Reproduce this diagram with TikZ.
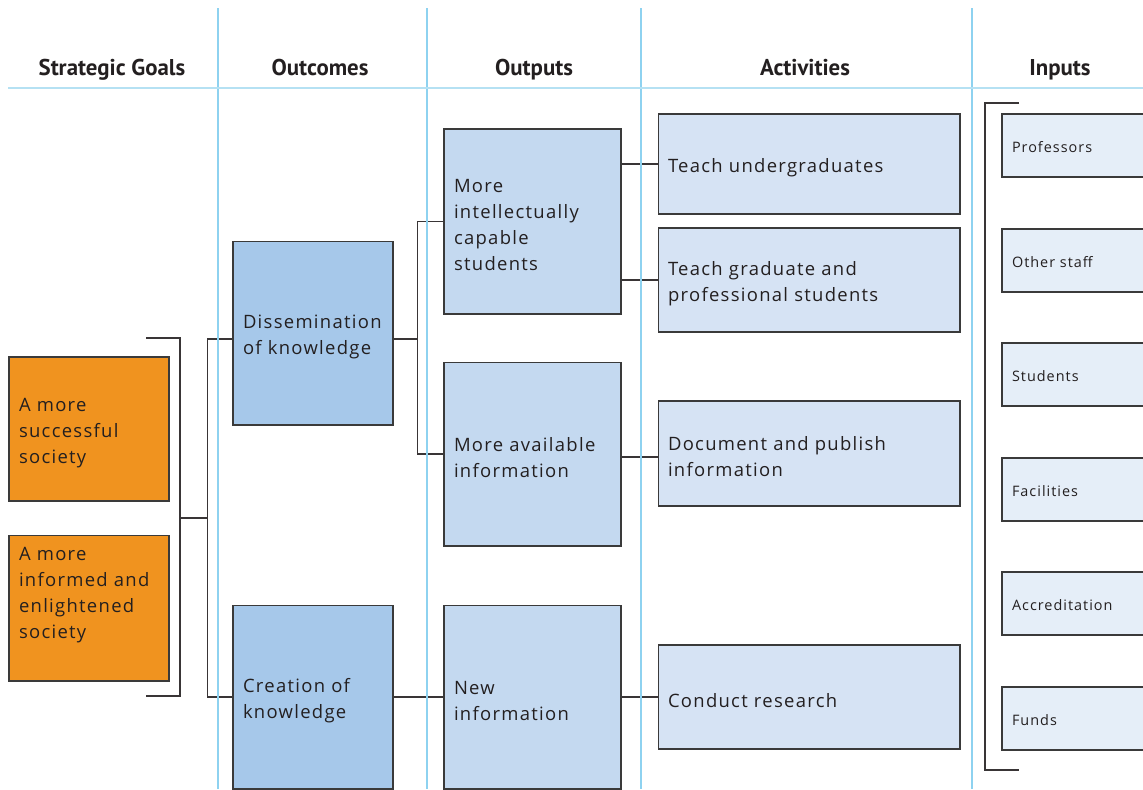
\documentclass[tikz,border=0pt]{standalone}
\usepackage{fontspec}
\setmainfont{Open Sans}[LetterSpace=7]
\newfontfamily\headfont{PT Sans}
\usetikzlibrary{positioning, calc}
\definecolor{goalorange}{HTML}{F0931F}
\definecolor{outcomeblue}{HTML}{A6C8EA}
\definecolor{outputblue}{HTML}{C4D9F0}
\definecolor{activityblue}{HTML}{D6E3F4}
\definecolor{inputblue}{HTML}{E5EEF8}
\definecolor{gridblue}{HTML}{8ED2F0}
\definecolor{rulesblue}{HTML}{B5E1F3}
\definecolor{boxgray}{HTML}{3A3A3A}
\definecolor{textdark}{HTML}{231F20}
\tikzstyle{box} = [rectangle, draw=boxgray, line width=0.6pt, align=left, inner xsep=0.2cm, inner ysep=0pt, text=textdark, font=\fontsize{10.5}{14.8}\selectfont, text height=12pt]
\tikzstyle{goal} = [box, fill=goalorange, minimum width=3.2cm, text width=2.8cm]
\tikzstyle{outcome} = [box, fill=outcomeblue, minimum width=3.2cm, text width=2.8cm, minimum height=3.68cm]
\tikzstyle{output} = [box, fill=outputblue, minimum width=3.54cm, text width=3.14cm]
\tikzstyle{activity} = [box, fill=activityblue, minimum width=6.04cm, text width=5.64cm]
\tikzstyle{input} = [box, fill=inputblue, minimum width=3.2cm, text width=2.8cm, minimum height=1.26cm, font=\fontsize{8.2}{10}\selectfont, text height=8.3pt]
\tikzstyle{header} = [anchor=base, text=textdark, font=\headfont\bfseries\fontsize{13}{15}\selectfont]
\tikzstyle{link} = [line width=0.9pt, draw=textdark!90]
\tikzstyle{gridline} = [draw=gridblue, line width=0.6pt]

\begin{document}
\begin{tikzpicture}[x=0.02cm, y=-0.02cm]
    \useasboundingbox (0,0) rectangle (1143,789);
    \clip (0,0) rectangle (1143,789);

    % column headers
    \node[header] (hgoals) at (112,75) {Strategic Goals};
    \node[header] (houtcomes) at (320,75) {Outcomes};
    \node[header] (houtputs) at (534,75) {Outputs};
    \node[header] (hactivities) at (805,75) {Activities};
    \node[header] (hinputs) at (1060,75) {Inputs};

    % goals
    \node[goal, minimum height=2.88cm] (goalsuccess) at (89,429) {A more\\successful\\society};
    \node[goal, minimum height=2.92cm, text depth=66pt] (goalinformed) at (89,608) {A more\\informed and\\enlightened\\society};

    % outcomes
    \node[outcome] (dissemination) at (313,333) {Dissemination\\of knowledge};
    \node[outcome] (creation) at (313,697) {Creation of\\knowledge};

    % outputs
    \node[output, minimum height=3.7cm] (capable) at (532.5,221.5) {More\\intellectually\\capable\\students};
    \node[output, minimum height=3.68cm] (available) at (532.5,454) {More available\\information};
    \node[output, minimum height=3.68cm] (newinfo) at (532.5,697) {New\\information};

    % activities
    \node[activity, minimum height=2.0cm] (undergrad) at (809,164) {Teach undergraduates};
    \node[activity, minimum height=2.08cm] (graduate) at (809,280) {Teach graduate and\\professional students};
    \node[activity, minimum height=2.1cm] (publish) at (809,453.5) {Document and publish\\information};
    \node[activity, minimum height=2.08cm] (research) at (809,697) {Conduct research};

    % inputs
    \foreach \name/\y/\txt in {professors/145.5/Professors, staff/260.5/Other staff, students/374.5/Students, facilities/489.5/Facilities, accreditation/603.5/Accreditation, funds/718.5/Funds}
        \node[input] (\name) at (1082,\y) {\txt};

    % brackets
    \coordinate (gtop) at (146,338);
    \coordinate (gbottom) at (146,696);
    \draw[link] (gtop) -- ++(34,0) |- (gbottom);
    \coordinate (gmid) at (180,518);
    \draw[link] (gmid) -- ++(28,0);
    \draw[link] ([yshift=-0.12cm]dissemination.west) -- ++(-25,0) |- (creation.west);
    \coordinate (itop) at (1019,103);
    \coordinate (ibottom) at (1019,770);
    \draw[link] (itop) -- ++(-34,0) |- (ibottom);

    % connectors
    \draw[link] ([yshift=-0.12cm]dissemination.east) -- ++(24,0) coordinate (split);
    \draw[link] (capable.west) -| (split) |- (available.west);
    \draw[link] (creation.east) -- (newinfo.west);
    \draw[link] (undergrad.west) -- (undergrad.west -| capable.east);
    \draw[link] (graduate.west) -- (graduate.west -| capable.east);
    \draw[link] ([yshift=-0.07cm]publish.west) -- ([yshift=-0.07cm]publish.west -| available.east);
    \draw[link] (research.west) -- (newinfo.east);

    % grid
    \foreach \x in {218,427,641,972}
        \draw[gridline] (\x,8) -- (\x,789);
    \draw[draw=rulesblue, line width=1.1pt] (8,88) -- (1143,88);
\end{tikzpicture}
\end{document}
